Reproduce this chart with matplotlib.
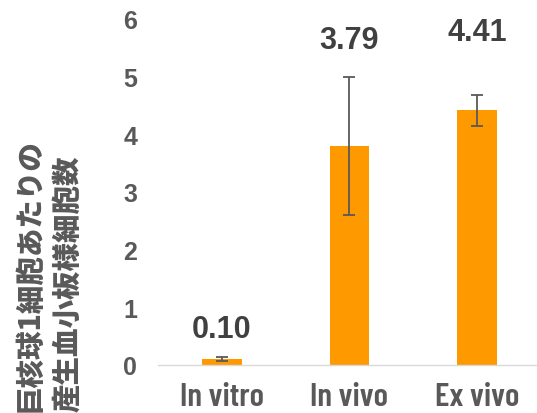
import matplotlib
matplotlib.use("Agg")
import matplotlib.pyplot as plt

categories = ["In vitro", "In vivo", "Ex vivo"]
values = [0.10, 3.79, 4.41]
errors = [0.03, 1.20, 0.27]
value_labels = ["0.10", "3.79", "4.41"]
label_y = [0.62, 5.63, 5.76]  # where the data labels sit (value units)
y_ticks = [0, 1, 2, 3, 4, 5, 6]
ylabel_lines = ["巨核球1細胞あたりの", "産生血小板様細胞数"]

BAR_COLOR = "#ff9900"
TEXT_GRAY = "#595959"
LABEL_DARK = "#404040"

fig = plt.figure(figsize=(5.37, 4.14), dpi=100)
ax = fig.add_axes([158 / 537, 48 / 414, (537 - 158) / 537, (366 - 19.6) / 414])

x = range(len(categories))
ax.bar(x, values, width=0.31, color=BAR_COLOR, zorder=2)
ax.errorbar(x, values, yerr=errors, fmt="none", ecolor=TEXT_GRAY,
            elinewidth=1.3, capsize=4.5, capthick=1.3, zorder=3)

for xi, txt, yy in zip(x, value_labels, label_y):
    ax.text(xi, yy, txt, ha="center", va="center", fontsize=22, fontweight="bold",
            family=["Liberation Sans", "DejaVu Sans"], color=LABEL_DARK)

ax.set_xlim(-0.5, 2.47)
ax.set_ylim(0, 6)
ax.set_yticks(y_ticks)
ax.set_yticklabels([str(t) for t in y_ticks], family=["Liberation Sans", "DejaVu Sans"],
                   fontsize=18, fontweight="bold", color=TEXT_GRAY)
ax.set_xticks(list(x))
ax.set_xticklabels(categories, family=["Barlow Condensed", "Liberation Sans", "DejaVu Sans"],
                   fontsize=24, fontweight=600, color=TEXT_GRAY)
ax.tick_params(axis="y", length=0, pad=15)
ax.tick_params(axis="x", length=0, pad=12)

for side in ["top", "right", "left"]:
    ax.spines[side].set_visible(False)
ax.spines["bottom"].set_color("#d9d9d9")
ax.spines["bottom"].set_linewidth(1.0)

# two-line rotated axis title, anchored at the figure's bottom edge
for xpos, line in zip([29, 67], ylabel_lines):
    fig.text(xpos / 537, 2 / 414, line, rotation=90, ha="center", va="bottom",
             fontsize=20.5, fontweight=900, color=TEXT_GRAY,
             family=["Noto Sans CJK JP", "DejaVu Sans"])

fig.savefig("out.png", dpi=100)
